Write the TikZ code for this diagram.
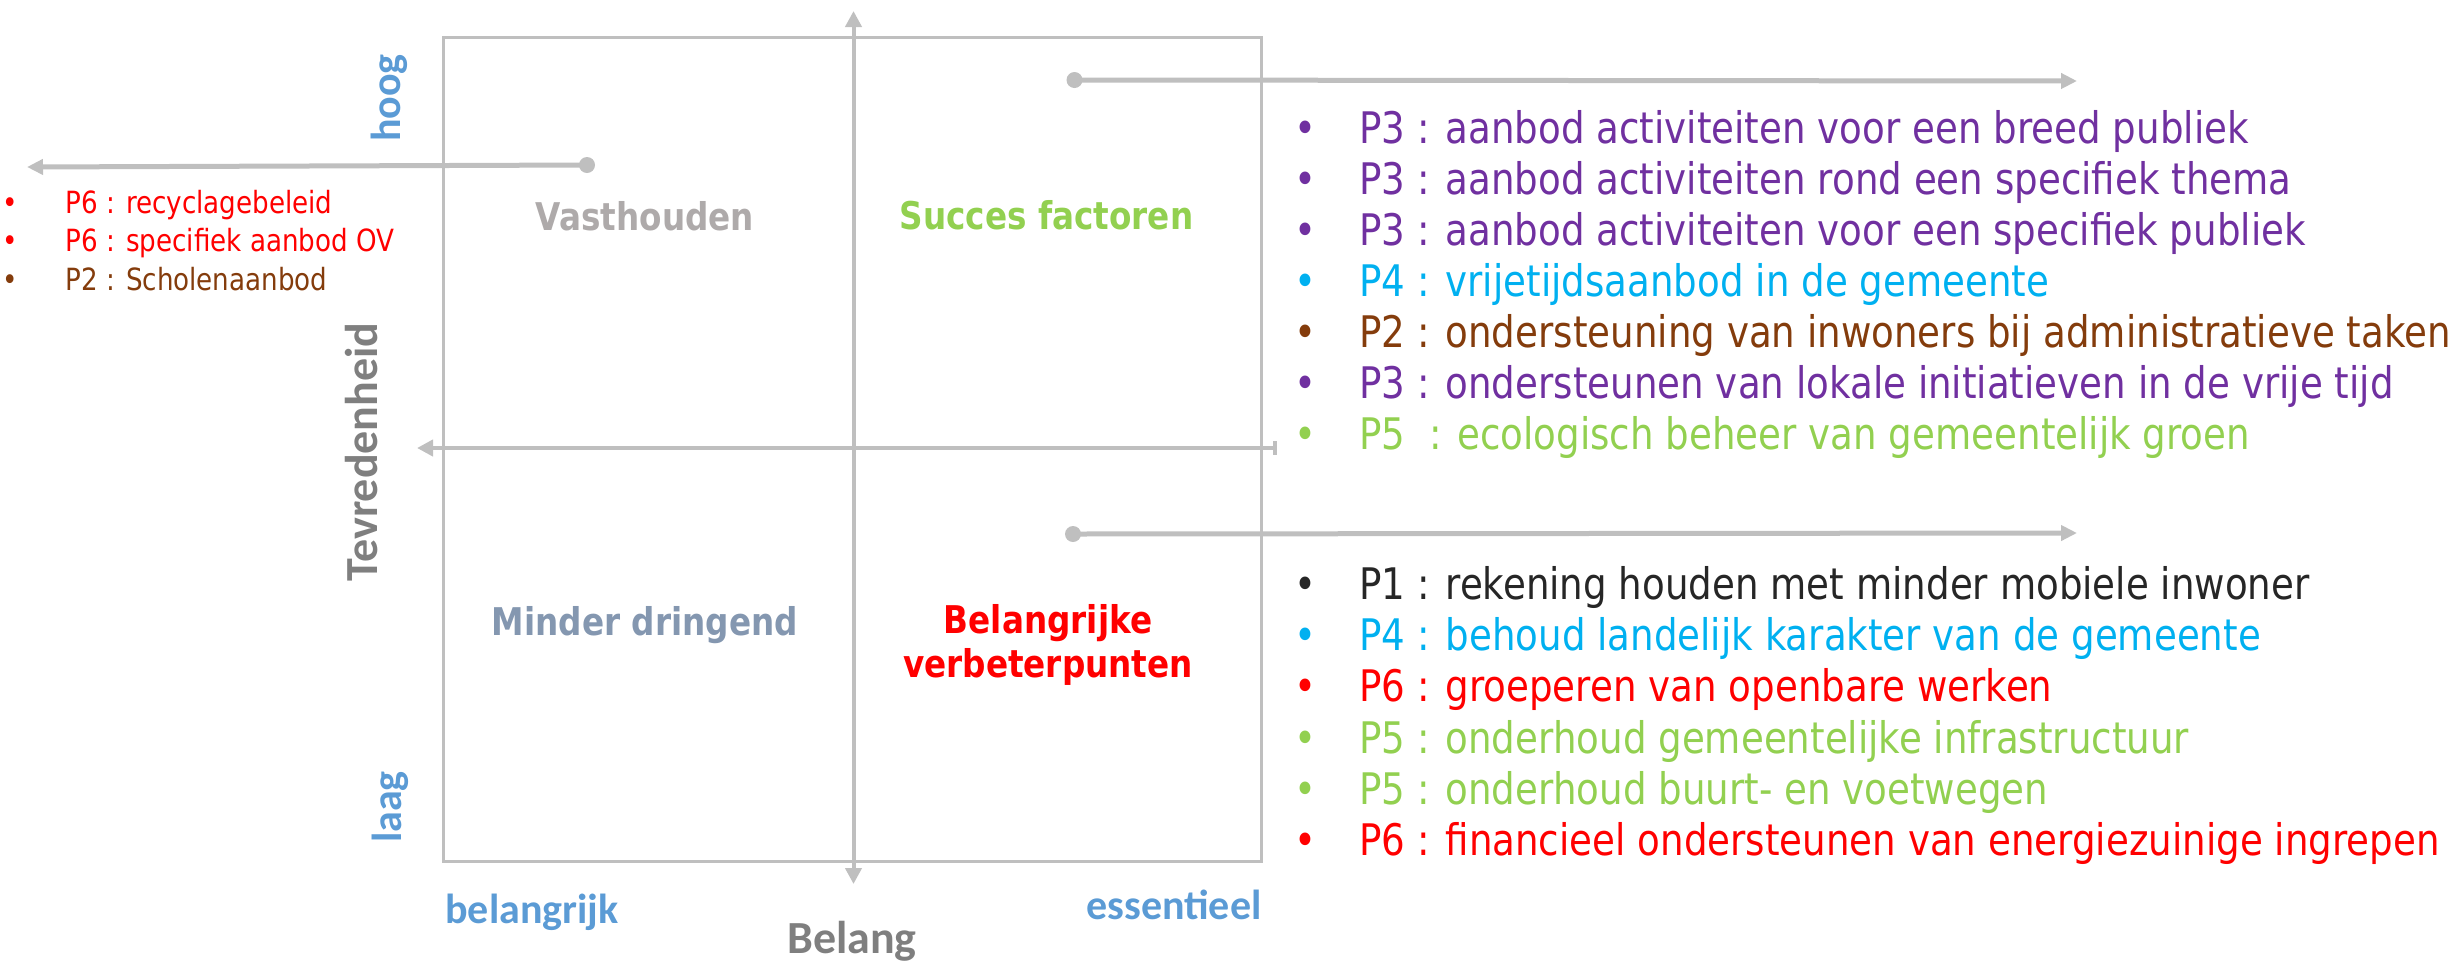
\documentclass[tikz,border=0pt]{standalone}
\usepackage{fontspec}
\setmainfont{DejaVu Sans}
\newfontfamily\tahfont[FakeStretch=0.855]{DejaVu Sans}
\newfontfamily\calfont{Carlito}
\usetikzlibrary{arrows.meta}
\definecolor{ln}{HTML}{BFBFBF}
\definecolor{axblue}{HTML}{5B9BD5}
\definecolor{axgrey}{HTML}{7F7F7F}
\definecolor{qgrey}{HTML}{AEAAAA}
\definecolor{qgreen}{HTML}{92D050}
\definecolor{qblue}{HTML}{8497B0}
\definecolor{cpurple}{HTML}{7030A0}
\definecolor{cblue}{HTML}{00B0F0}
\definecolor{cbrown}{HTML}{843C0C}
\definecolor{cgreen}{HTML}{92D050}
\definecolor{cred}{HTML}{FF0000}
\definecolor{cdark}{HTML}{262626}
\tikzset{
  item/.style={anchor=base west, inner sep=0pt, font=\tahfont\fontsize{21.75}{26}\selectfont},
  bul/.style={anchor=base, inner sep=0pt, font=\tahfont\fontsize{21.75}{26}\selectfont},
  litem/.style={anchor=base west, inner sep=0pt, font=\tahfont\fontsize{15.3}{18}\selectfont},
  lbul/.style={anchor=base, inner sep=0pt, font=\tahfont\fontsize{15.3}{18}\selectfont},
  quad/.style={anchor=base, inner sep=0pt, font=\tahfont\bfseries\fontsize{19.1}{22}\selectfont},
  axlab/.style={inner sep=0pt, text=axblue, font=\calfont\bfseries\fontsize{21}{24}\selectfont},
  axtitle/.style={inner sep=0pt, text=axgrey, font=\calfont\bfseries\fontsize{23}{26}\selectfont},
  axisline/.style={draw=ln, line width=2pt},
  conn/.style={draw=ln, line width=2.5pt, -{Triangle[length=8pt,width=7.5pt]}},
  dotnode/.style={circle, fill=ln, minimum size=8pt, inner sep=0pt},
}
\begin{document}
\begin{tikzpicture}[x=0.5pt,y=-0.5pt]
\useasboundingbox (0,0) rectangle (2456,960);

% frame
\node[draw=ln, line width=1.5pt, minimum width=409pt, minimum height=412pt, inner sep=0pt] (frame) at (852,449) {};

% axes
\coordinate (ytop) at (853.5,11);
\coordinate (ybot) at (853.5,884);
\coordinate (xleft) at (417,448);
\coordinate (xright) at (1277,448);
\draw[axisline, {Triangle[length=8pt,width=8pt]}-{Triangle[length=8pt,width=8pt]}] (ybot) -- (ytop);
\draw[axisline, {Bar[width=7pt]}-{Triangle[length=8pt,width=8pt]}] (xright) -- (xleft);

% connectors
\node[dotnode] (d1) at (587,165) {};
\coordinate (e1) at (27,167);
\draw[conn] (d1.center) -- (e1);
\node[dotnode] (d2) at (1074.5,80) {};
\coordinate (e2) at (2077,81);
\draw[conn] (d2.center) -- (e2);
\node[dotnode] (d3) at (1073,534) {};
\coordinate (e3) at (2077,533);
\draw[conn] (d3.center) -- (e3);

% quadrant labels
\node[quad, text=qgrey] (q1) at (645,230) {Vasthouden};
\node[quad, text=qgreen] (q2) at (1046.5,229) {Succes factoren};
\node[quad, text=qblue] (q3) at (645,635) {Minder dringend};
\node[quad, text=cred] (q4a) at (1048,633) {Belangrijke};
\node[quad, text=cred] (q4b) at (1048,677) {verbeterpunten};

% axis labels
\node[axlab, rotate=90] (hoog) at (389,98) {hoog};
\node[axlab, rotate=90] (laag) at (390,807) {laag};
\node[axtitle, rotate=90] (tevr) at (362,452) {Tevredenheid};
\node[axlab, anchor=base west] (belr) at (445,923) {belangrijk};
\node[axlab, anchor=base east] (ess) at (1262,919) {essentieel};
\node[axtitle, anchor=base] (belang) at (852,953) {Belang};

% left list
\foreach \n/\y/\c/\t in {1/213/cred/{P6 : recyclagebeleid},
                         2/251/cred/{P6 : specifiek aanbod OV},
                         3/290/cbrown/{P2 : Scholenaanbod}} {
  \node[lbul, text=\c] (lb\n) at (10,\y) {•};
  \node[litem, text=\c] (lt\n) at (65,\y) {\t};
}

% upper right list
\foreach \n/\y/\c/\t in {1/143/cpurple/{P3 : aanbod activiteiten voor een breed publiek},
                         2/194/cpurple/{P3 : aanbod activiteiten rond een specifiek thema},
                         3/245/cpurple/{P3 : aanbod activiteiten voor een specifiek publiek},
                         4/296/cblue/{P4 : vrijetijdsaanbod in de gemeente},
                         5/347/cbrown/{P2 : ondersteuning van inwoners bij administratieve taken},
                         6/398/cpurple/{P3 : ondersteunen van lokale initiatieven in de vrije tijd},
                         7/449/cgreen/{P5\ \ : ecologisch beheer van gemeentelijk groen}} {
  \node[bul, text=\c] (ub\n) at (1305,\y) {•};
  \node[item, text=\c] (ut\n) at (1359,\y) {\t};
}

% lower right list
\foreach \n/\y/\c/\t in {1/599/cdark/{P1 : rekening houden met minder mobiele inwoner},
                         2/650/cblue/{P4 : behoud landelijk karakter van de gemeente},
                         3/701/cred/{P6 : groeperen van openbare werken},
                         4/753/cgreen/{P5 : onderhoud gemeentelijke infrastructuur},
                         5/804/cgreen/{P5 : onderhoud buurt- en voetwegen},
                         6/855/cred/{P6 : financieel ondersteunen van energiezuinige ingrepen}} {
  \node[bul, text=\c] (bb\n) at (1305,\y) {•};
  \node[item, text=\c] (bt\n) at (1359,\y) {\t};
}
\end{tikzpicture}
\end{document}
